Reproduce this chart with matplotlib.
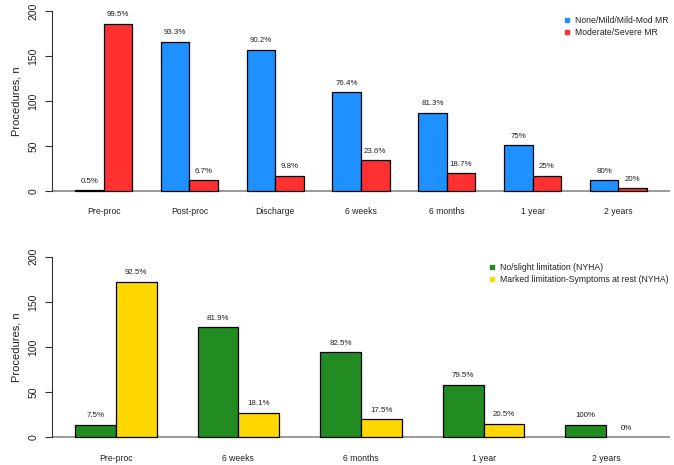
import matplotlib.pyplot as plt
import numpy as np
from matplotlib.lines import Line2D

plt.rcParams['font.family'] = ['Liberation Sans', 'DejaVu Sans']

# top panel: MR grade
mr_labels = ['Pre-proc', 'Post-proc', 'Discharge', '6 weeks', '6 months', '1 year', '2 years']
mr_low = [1, 166, 157, 110, 87, 51, 12]
mr_high = [186, 12, 17, 34, 20, 17, 3]
mr_low_pct = ['0.5%', '93.3%', '90.2%', '76.4%', '81.3%', '75%', '80%']
mr_high_pct = ['99.5%', '6.7%', '9.8%', '23.6%', '18.7%', '25%', '20%']

# bottom panel: NYHA class
nyha_labels = ['Pre-proc', '6 weeks', '6 months', '1 year', '2 years']
nyha_low = [14, 122, 94, 58, 14]
nyha_high = [172, 27, 20, 15, 0]
nyha_low_pct = ['7.5%', '81.9%', '82.5%', '79.5%', '100%']
nyha_high_pct = ['92.5%', '18.1%', '17.5%', '20.5%', '0%']

W, H = 674, 465


def panel(ax, labels, a, b, a_pct, b_pct, colors, names, leg_xy):
    n = len(labels)
    left = 1 + 3 * np.arange(n)
    for vals, off, col in [(a, 0, colors[0]), (b, 1, colors[1])]:
        edges = ['none' if v == 0 else 'black' for v in vals]
        ax.bar(left + off, vals, width=1, align='edge', color=col, edgecolor=edges, linewidth=0.9, zorder=3)
    for i in range(n):
        ax.text(left[i] + 0.5, a[i] + 10, a_pct[i], ha='center', va='center', fontsize=5.7, color='#222222')
        ax.text(left[i] + 1.5, b[i] + 10, b_pct[i], ha='center', va='center', fontsize=5.7, color='#222222')
        ax.text(left[i] + 1, -23, labels[i], ha='center', va='center', fontsize=6.2, color='#222222')
    ax.axhline(0, color='#888888', linewidth=1.2, zorder=2)
    # R style x range: 4% padding around the bars
    ax.set_xlim(1 - 0.04 * (3 * n - 1), 3 * n + 0.04 * (3 * n - 1))
    ax.set_ylim(-8, 208)
    ax.set_yticks([0, 50, 100, 150, 200])
    ax.set_yticklabels(['0', '50', '100', '150', '200'], rotation=90, va='center', fontsize=7.5, color='#222222')
    ax.tick_params(axis='y', length=5, width=0.8, pad=5, color='#333333')
    ax.set_xticks([])
    for s in ['top', 'right', 'bottom']:
        ax.spines[s].set_visible(False)
    ax.spines['left'].set_bounds(0, 200)
    ax.spines['left'].set_linewidth(0.8)
    ax.spines['left'].set_color('#333333')
    ax.set_ylabel('Procedures, n', fontsize=8, color='#222222', labelpad=5)
    handles = [Line2D([], [], marker='s', linestyle='', color=c, markersize=3.5) for c in colors]
    ax.legend(handles, names, loc='upper left', bbox_to_anchor=(leg_xy[0] / W, 1 - leg_xy[1] / H),
              bbox_transform=ax.figure.transFigure, frameon=False, fontsize=6.2,
              borderpad=0, borderaxespad=0, handlelength=0.8, handletextpad=0.5,
              labelspacing=0.35, labelcolor='#222222')


fig = plt.figure(figsize=(W / 100, H / 100), dpi=100)
ax1 = fig.add_axes([52.1 / W, 1 - 198.2 / H, 617.8 / W, 194.4 / H])
ax2 = fig.add_axes([52.1 / W, 1 - 444.5 / H, 617.8 / W, 195.0 / H])

panel(ax1, mr_labels, mr_low, mr_high, mr_low_pct, mr_high_pct,
      ['#1E90FF', '#FF3030'], ['None/Mild/Mild-Mod MR', 'Moderate/Severe MR'], (564, 16))
panel(ax2, nyha_labels, nyha_low, nyha_high, nyha_low_pct, nyha_high_pct,
      ['#228B22', '#FFD700'], ['No/slight limitation (NYHA)', 'Marked limitation-Symptoms at rest (NYHA)'], (489, 263))

fig.savefig('out.png', dpi=100)
